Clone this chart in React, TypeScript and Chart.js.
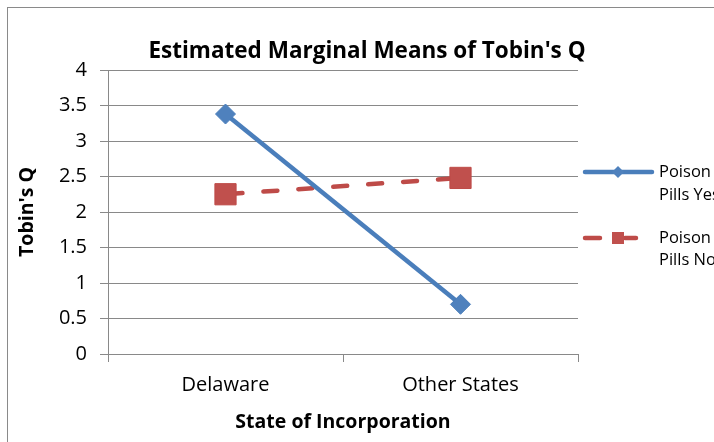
import React, { useEffect, useRef } from 'react';
import { Chart, registerables } from 'chart.js';

Chart.register(...registerables);

const categories = ['Delaware', 'Other States'];
const poisonPillsYes = [3.38, 0.7];
const poisonPillsNo = [2.25, 2.48];
const seriesYesLabel = ['Poison', 'Pills Yes'];
const seriesNoLabel = ['Poison', 'Pills No'];
const chartTitle = "Estimated Marginal Means of Tobin's Q";
const xAxisTitle = 'State of Incorporation';
const yAxisTitle = "Tobin's Q";
const yMin = 0;
const yMax = 4;
const yStep = 0.5;

const FONT = '"Open Sans", Lato, sans-serif';
const GRID = '#898989';
const BLUE_LINE = '#4A7EBB';
const BLUE_FILL = '#4F81BD';
const RED_LINE = '#BE4B48';
const RED_FILL = '#C0504D';

const overlayPlugin = {
  id: 'overlay',
  afterDraw(chart: any) {
    const ctx = chart.ctx as CanvasRenderingContext2D;
    ctx.save();
    // Title
    ctx.fillStyle = '#000';
    ctx.font = `bold 22.5px ${FONT}`;
    ctx.textAlign = 'center';
    ctx.textBaseline = 'alphabetic';
    ctx.fillText(chartTitle, 359, 50);

    // Legend
    const lx0 = 575;
    const textX = 651;
    // Yes series
    let y = 164;
    ctx.strokeStyle = BLUE_LINE;
    ctx.lineWidth = 4.5;
    ctx.lineCap = 'round';
    ctx.setLineDash([]);
    ctx.beginPath();
    ctx.moveTo(lx0 + 2, y);
    ctx.lineTo(lx0 + 69, y);
    ctx.stroke();
    ctx.fillStyle = BLUE_FILL;
    ctx.beginPath();
    const dx = lx0 + 35;
    ctx.moveTo(dx - 6, y);
    ctx.lineTo(dx, y - 6);
    ctx.lineTo(dx + 6, y);
    ctx.lineTo(dx, y + 6);
    ctx.closePath();
    ctx.fill();

    // No series
    y = 230;
    ctx.strokeStyle = RED_LINE;
    ctx.beginPath();
    ctx.moveTo(lx0 + 2, y);
    ctx.lineTo(lx0 + 17, y);
    ctx.moveTo(lx0 + 42, y);
    ctx.lineTo(lx0 + 53, y);
    ctx.stroke();
    ctx.fillStyle = RED_FILL;
    ctx.fillRect(lx0 + 29, y - 6, 12, 12);

    ctx.fillStyle = '#000';
    ctx.font = `16.5px ${FONT}`;
    ctx.textAlign = 'left';
    ctx.textBaseline = 'middle';
    ctx.fillText(seriesYesLabel[0], textX, 164);
    ctx.fillText(seriesYesLabel[1], textX, 187);
    ctx.fillText(seriesNoLabel[0], textX, 230);
    ctx.fillText(seriesNoLabel[1], textX, 252);
    ctx.restore();
  },
};

export default function App() {
  const ref = useRef<HTMLCanvasElement>(null);

  useEffect(() => {
    if (!ref.current) return;
    const chart = new Chart(ref.current, {
      type: 'line',
      data: {
        labels: categories,
        datasets: [
          {
            label: seriesYesLabel.join(' '),
            data: poisonPillsYes,
            borderColor: BLUE_LINE,
            borderWidth: 4.5,
            backgroundColor: BLUE_FILL,
            pointStyle: 'rectRot',
            pointRadius: 10,
            pointBackgroundColor: BLUE_FILL,
            pointBorderColor: BLUE_LINE,
            pointBorderWidth: 1,
            tension: 0,
          },
          {
            label: seriesNoLabel.join(' '),
            data: poisonPillsNo,
            borderColor: RED_LINE,
            borderWidth: 4.5,
            borderDash: [14, 21],
            borderDashOffset: -3,
            borderCapStyle: 'round',
            backgroundColor: RED_FILL,
            pointStyle: 'rect',
            pointRadius: 15,
            pointBackgroundColor: RED_FILL,
            pointBorderColor: RED_LINE,
            pointBorderWidth: 1,
            tension: 0,
          },
        ],
      },
      options: {
        responsive: false,
        animation: false,
        events: [],
        layout: { padding: { top: 62, right: 136, left: 0, bottom: 0 } },
        plugins: {
          legend: { display: false },
          title: { display: false },
          tooltip: { enabled: false },
        },
        scales: {
          x: {
            type: 'category',
            offset: true,
            grid: {
              offset: true,
              drawOnChartArea: false,
              drawTicks: true,
              tickLength: 8,
              color: GRID,
              lineWidth: 1,
            },
            border: { color: GRID, width: 1 },
            ticks: { font: { family: FONT, size: 20 }, color: '#000', padding: 11 },
            title: {
              display: true,
              text: xAxisTitle,
              color: '#000',
              font: { family: FONT, size: 19.5, weight: 'bold' },
              padding: { top: 0, bottom: 8 },
            },
            afterFit: (s: any) => {
              s.height = 88;
            },
          },
          y: {
            min: yMin,
            max: yMax,
            ticks: {
              stepSize: yStep,
              font: { family: FONT, size: 20 },
              color: '#000',
              padding: 13,
              callback: (v: any) => String(Number(v)),
            },
            grid: { color: GRID, lineWidth: 1, tickLength: 8 },
            border: { color: GRID, width: 1 },
            title: {
              display: true,
              text: yAxisTitle,
              color: '#000',
              font: { family: FONT, size: 19.5, weight: 'bold' },
              padding: { top: 8, bottom: 0 },
            },
            afterFit: (s: any) => {
              s.width = 100;
            },
          },
        },
      },
      plugins: [overlayPlugin],
    } as any);
    return () => chart.destroy();
  }, []);

  return (
    <div
      style={{
        position: 'fixed',
        left: 7,
        top: 7,
        width: 707,
        height: 435,
        borderLeft: '1px solid #8a8a8a',
        borderTop: '1px solid #8a8a8a',
        boxSizing: 'border-box',
        overflow: 'hidden',
        background: '#fff',
      }}
    >
      <canvas ref={ref} width={706} height={434} style={{ display: 'block' }} />
    </div>
  );
}
